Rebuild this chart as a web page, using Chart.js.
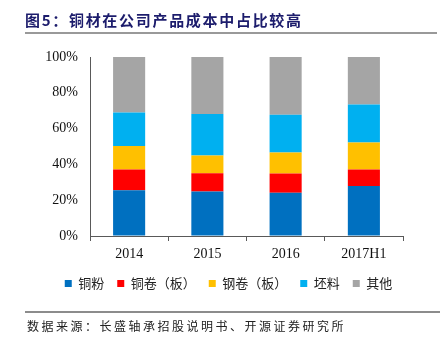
<!DOCTYPE html>
<html>
<head>
<meta charset="utf-8">
<script src="https://cdn.jsdelivr.net/npm/chart.js@4/dist/chart.umd.min.js"></script>
<style>
  body { margin: 0; background: #fff; }
  #wrap { position: relative; width: 440px; height: 339px; overflow: hidden; }
  #chart { position: absolute; left: 0; top: 0; }
  .title {
    position: absolute; left: 25px; top: 9px;
    font: bold 15px "Noto Sans CJK SC", sans-serif; letter-spacing: 1.7px;
    color: #1c1c6c; white-space: nowrap;
  }
  .rule { position: absolute; left: 25px; right: 3px; top: 32px; height: 2px; background: #999; }
  .rule.bottom { left: 25px; right: 0; top: 311px; height: 1.5px; background: #8c8c8c; }
  .source {
    position: absolute; left: 27px; top: 317px;
    font: 12px "Noto Sans CJK SC", sans-serif; letter-spacing: 2.5px;
    color: #222; white-space: nowrap;
  }
</style>
</head>
<body>
<div id="wrap">
  <canvas id="chart" width="440" height="339"></canvas>
  <div class="title">图5：铜材在公司产品成本中占比较高</div>
  <div class="rule"></div>
  <div class="rule bottom"></div>
  <div class="source">数据来源：长盛轴承招股说明书、开源证券研究所</div>
</div>
<script>
const years = ['2014', '2015', '2016', '2017H1'];
const seriesNames = ['铜粉', '铜卷（板）', '钢卷（板）', '坯料', '其他'];
const copperPowder = [25.5, 24.8, 24.2, 28.0];
const copperCoil = [11.6, 10.3, 10.7, 9.1];
const steelCoil = [13.2, 9.9, 11.8, 15.2];
const billet = [18.7, 23.1, 21.0, 21.2];
const other = [31.0, 31.9, 32.3, 26.5];
const yTicks = [0, 20, 40, 60, 80, 100];

const colors = ['#0070c0', '#ff0000', '#ffc000', '#00b0f0', '#a5a5a5'];
const values = [copperPowder, copperCoil, steelCoil, billet, other];

const axisColor = '#595959';
const serif = 'Liberation Serif';

// nudge the legend row to the right so it sits under the plot, not the page
const legendShift = {
  id: 'legendShift',
  afterLayout(chart) {
    const lg = chart.legend;
    if (!lg) return;
    lg.left += 27;
    lg.right += 27;
  },
};

new Chart(document.getElementById('chart'), {
  type: 'bar',
  data: {
    labels: years,
    datasets: seriesNames.map((name, i) => ({
      label: name,
      data: values[i],
      backgroundColor: colors[i],
      borderWidth: 0,
      categoryPercentage: 1,
      barPercentage: 0.41,
    })),
  },
  plugins: [legendShift],
  options: {
    responsive: false,
    animation: false,
    layout: { padding: { left: 0, right: 37, top: 57, bottom: 39 } },
    plugins: {
      tooltip: { enabled: false },
      legend: {
        position: 'bottom',
        labels: {
          boxWidth: 7,
          boxHeight: 7,
          padding: 13,
          color: '#222',
          font: { family: 'Noto Sans CJK SC', size: 13 },
        },
      },
    },
    scales: {
      x: {
        stacked: true,
        afterFit: (s) => { s.height = 28; },
        grid: {
          offset: true,
          drawOnChartArea: false,
          drawTicks: true,
          tickLength: 5,
          color: axisColor,
        },
        border: { color: axisColor, width: 1 },
        ticks: { color: '#111', padding: 5, font: { family: serif, size: 14 } },
      },
      y: {
        stacked: true,
        min: 0,
        max: 100,
        afterFit: (s) => { s.width = 90; },
        afterBuildTicks: (s) => { s.ticks = yTicks.map((v) => ({ value: v })); },
        grid: { drawOnChartArea: false, drawTicks: false },
        border: { color: axisColor, width: 1 },
        ticks: {
          color: '#111',
          padding: 12,
          font: { family: serif, size: 14 },
          callback: (v) => v + '%',
        },
      },
    },
  },
});
</script>
</body>
</html>
